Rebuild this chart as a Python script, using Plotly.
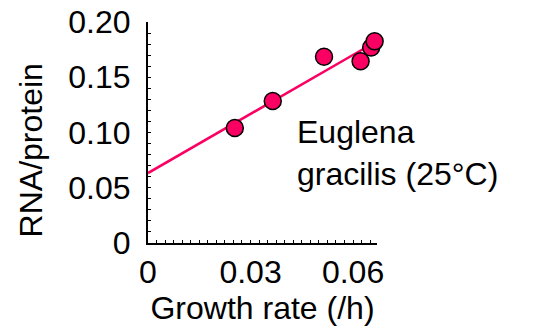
import plotly.graph_objects as go

# Data
growth_rate = [0.0254, 0.0365, 0.0515, 0.0622, 0.0653, 0.0663]
rna_protein = [0.104, 0.1285, 0.1685, 0.1645, 0.177, 0.1825]
fit_x = [0.0, 0.0635]
fit_y = [0.0633, 0.1765]
x_ticks = [0, 0.03, 0.06]
x_tick_text = ["0", "0.03", "0.06"]
y_ticks = [0, 0.05, 0.10, 0.15, 0.20]
y_tick_text = ["0", "0.05", "0.10", "0.15", "0.20"]

pink = "#FA0063"
font = "Liberation Sans, Arial, sans-serif"
fs = 32

fig = go.Figure()
fig.add_trace(go.Scatter(x=fit_x, y=fit_y, mode="lines",
                         line=dict(color=pink, width=2.5), showlegend=False,
                         cliponaxis=False))
fig.add_trace(go.Scatter(x=growth_rate, y=rna_protein, mode="markers",
                         marker=dict(color=pink, size=17, line=dict(color="black", width=1.5)),
                         showlegend=False, cliponaxis=False))

fig.add_annotation(x=0.0430, y=0.0815, xref="x", yref="y",
                   text="Euglena<br>gracilis (25°C)", showarrow=False,
                   xanchor="left", yanchor="middle", align="left",
                   font=dict(family=font, size=fs, color="black"))

fig.add_annotation(x=-0.51, y=0.42, xref="paper", yref="paper",
                   text="RNA/protein", textangle=-90, showarrow=False,
                   xanchor="center", yanchor="middle",
                   font=dict(family=font, size=fs, color="black"))

fig.update_layout(
    width=535, height=326,
    margin=dict(l=148, r=158, t=22, b=83, autoexpand=False),
    paper_bgcolor="white", plot_bgcolor="white",
    font=dict(family=font, size=fs, color="black"),
    xaxis=dict(range=[0, 0.067], tickvals=x_ticks, ticktext=x_tick_text,
               showgrid=False, zeroline=False, showline=True, linecolor="black", linewidth=2,
               ticks="inside", ticklen=3, tickcolor="black", tickwidth=1,
               minor=dict(dtick=0.0025, ticks="inside", ticklen=3, tickcolor="black", tickwidth=1),
               ticklabelstandoff=0, automargin=False,
               title=dict(text="Growth rate (/h)", font=dict(size=fs), standoff=2)),
    yaxis=dict(range=[0, 0.2], tickvals=y_ticks, ticktext=y_tick_text,
               showgrid=False, zeroline=False, showline=True, linecolor="black", linewidth=2,
               ticks="inside", ticklen=3, tickcolor="black", tickwidth=1,
               minor=dict(dtick=0.01, ticks="inside", ticklen=3, tickcolor="black", tickwidth=1),
               ticklabelstandoff=9, automargin=False),
)

fig.write_html("out.html")
